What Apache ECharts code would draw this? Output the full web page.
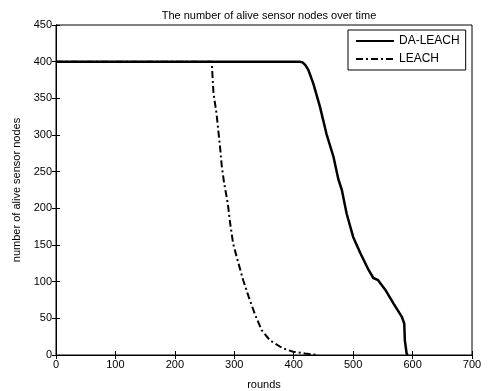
<!DOCTYPE html>
<html>
<head>
<meta charset="utf-8">
<script src="https://cdn.jsdelivr.net/npm/echarts@6/dist/echarts.min.js"></script>
<style>
  html, body { margin: 0; padding: 0; background: #fff; }
  #chart { width: 489px; height: 391px; }
</style>
</head>
<body>
<div id="chart"></div>
<script>
// DA-LEACH curve
var daRounds = [0, 410, 415, 420, 425, 433, 444, 455, 467, 475, 481, 489, 500, 512, 526, 534, 542, 554, 568, 582, 586, 587, 590, 592]
var daNodes = [400, 400, 399, 395, 388, 370, 339, 302, 270, 240, 225, 193, 161, 139, 116, 105, 102, 89, 70, 52, 43, 20, 2, 0]
// LEACH curve
var leachRounds = [0, 262, 265, 270, 276, 279, 283, 289, 293, 298, 307, 315, 324, 335, 346, 360, 382, 399, 419, 440]
var leachNodes = [400, 400, 357, 330, 284, 257, 234, 207, 180, 152, 125, 102, 80, 55, 34, 20, 9, 4.5, 2, 0]

function pairs(xs, ys) {
  var out = []
  for (var i = 0; i < xs.length; i++) {
    out.push([xs[i], ys[i]])
  }
  return out
}

var font = 'Liberation Sans, Arial, sans-serif'
var chart = echarts.init(document.getElementById('chart'))

var tickInside = { show: true, inside: true, length: 4, lineStyle: { color: '#000' } }
chart.setOption({
  animation: false,
  backgroundColor: '#fff',
  title: {
    text: 'The number of alive sensor nodes over time',
    left: 264,
    textAlign: 'center',
    top: 5,
    textStyle: { fontSize: 11, fontWeight: 'normal', color: '#000', fontFamily: font }
  },
  grid: {
    left: 56,
    right: 17,
    top: 25,
    bottom: 36,
    outerBoundsMode: 'none',
    containLabel: false,
    show: true,
    borderColor: '#000',
    borderWidth: 1
  },
  legend: {
    orient: 'vertical',
    left: 348,
    top: 30,
    padding: [5, 6, 5, 7],
    itemWidth: 38,
    itemHeight: 12,
    itemGap: 6,
    borderColor: '#000',
    borderWidth: 1,
    backgroundColor: '#fff',
    itemStyle: { opacity: 0 },
    textStyle: { fontSize: 12, color: '#000', fontFamily: font },
    data: ['DA-LEACH', 'LEACH']
  },
  xAxis: [{
    type: 'value',
    min: 0,
    max: 700,
    interval: 100,
    name: 'rounds',
    nameLocation: 'middle',
    nameGap: 24,
    nameTextStyle: { fontSize: 11, color: '#000', fontFamily: font },
    axisLine: { show: true, lineStyle: { color: '#000' } },
    axisTick: tickInside,
    axisLabel: { margin: 4, fontSize: 11, color: '#000', fontFamily: font },
    splitLine: { show: false }
  }, {
    type: 'value',
    position: 'top',
    min: 0,
    max: 700,
    interval: 100,
    axisLine: { show: true, lineStyle: { color: '#000' } },
    axisTick: tickInside,
    axisLabel: { show: false },
    splitLine: { show: false }
  }],
  yAxis: [{
    type: 'value',
    min: 0,
    max: 450,
    interval: 50,
    name: 'number of alive sensor nodes',
    nameLocation: 'middle',
    nameGap: 31,
    nameTextStyle: { fontSize: 11, color: '#000', fontFamily: font },
    axisLine: { show: true, lineStyle: { color: '#000' } },
    axisTick: tickInside,
    axisLabel: { margin: 4, fontSize: 11, color: '#000', fontFamily: font },
    splitLine: { show: false }
  }, {
    type: 'value',
    position: 'right',
    min: 0,
    max: 450,
    interval: 50,
    axisLine: { show: true, lineStyle: { color: '#000' } },
    axisTick: tickInside,
    axisLabel: { show: false },
    splitLine: { show: false }
  }],
  series: [{
    name: 'LEACH',
    type: 'line',
    data: pairs(leachRounds, leachNodes),
    showSymbol: false,
    symbol: 'none',
    color: '#000',
    lineStyle: { color: '#000', width: 2, type: [7, 3, 2, 3] },
    z: 2
  }, {
    name: 'DA-LEACH',
    type: 'line',
    data: pairs(daRounds, daNodes),
    showSymbol: false,
    symbol: 'none',
    color: '#000',
    lineStyle: { color: '#000', width: 2.5 },
    z: 3
  }]
})
</script>
</body>
</html>
